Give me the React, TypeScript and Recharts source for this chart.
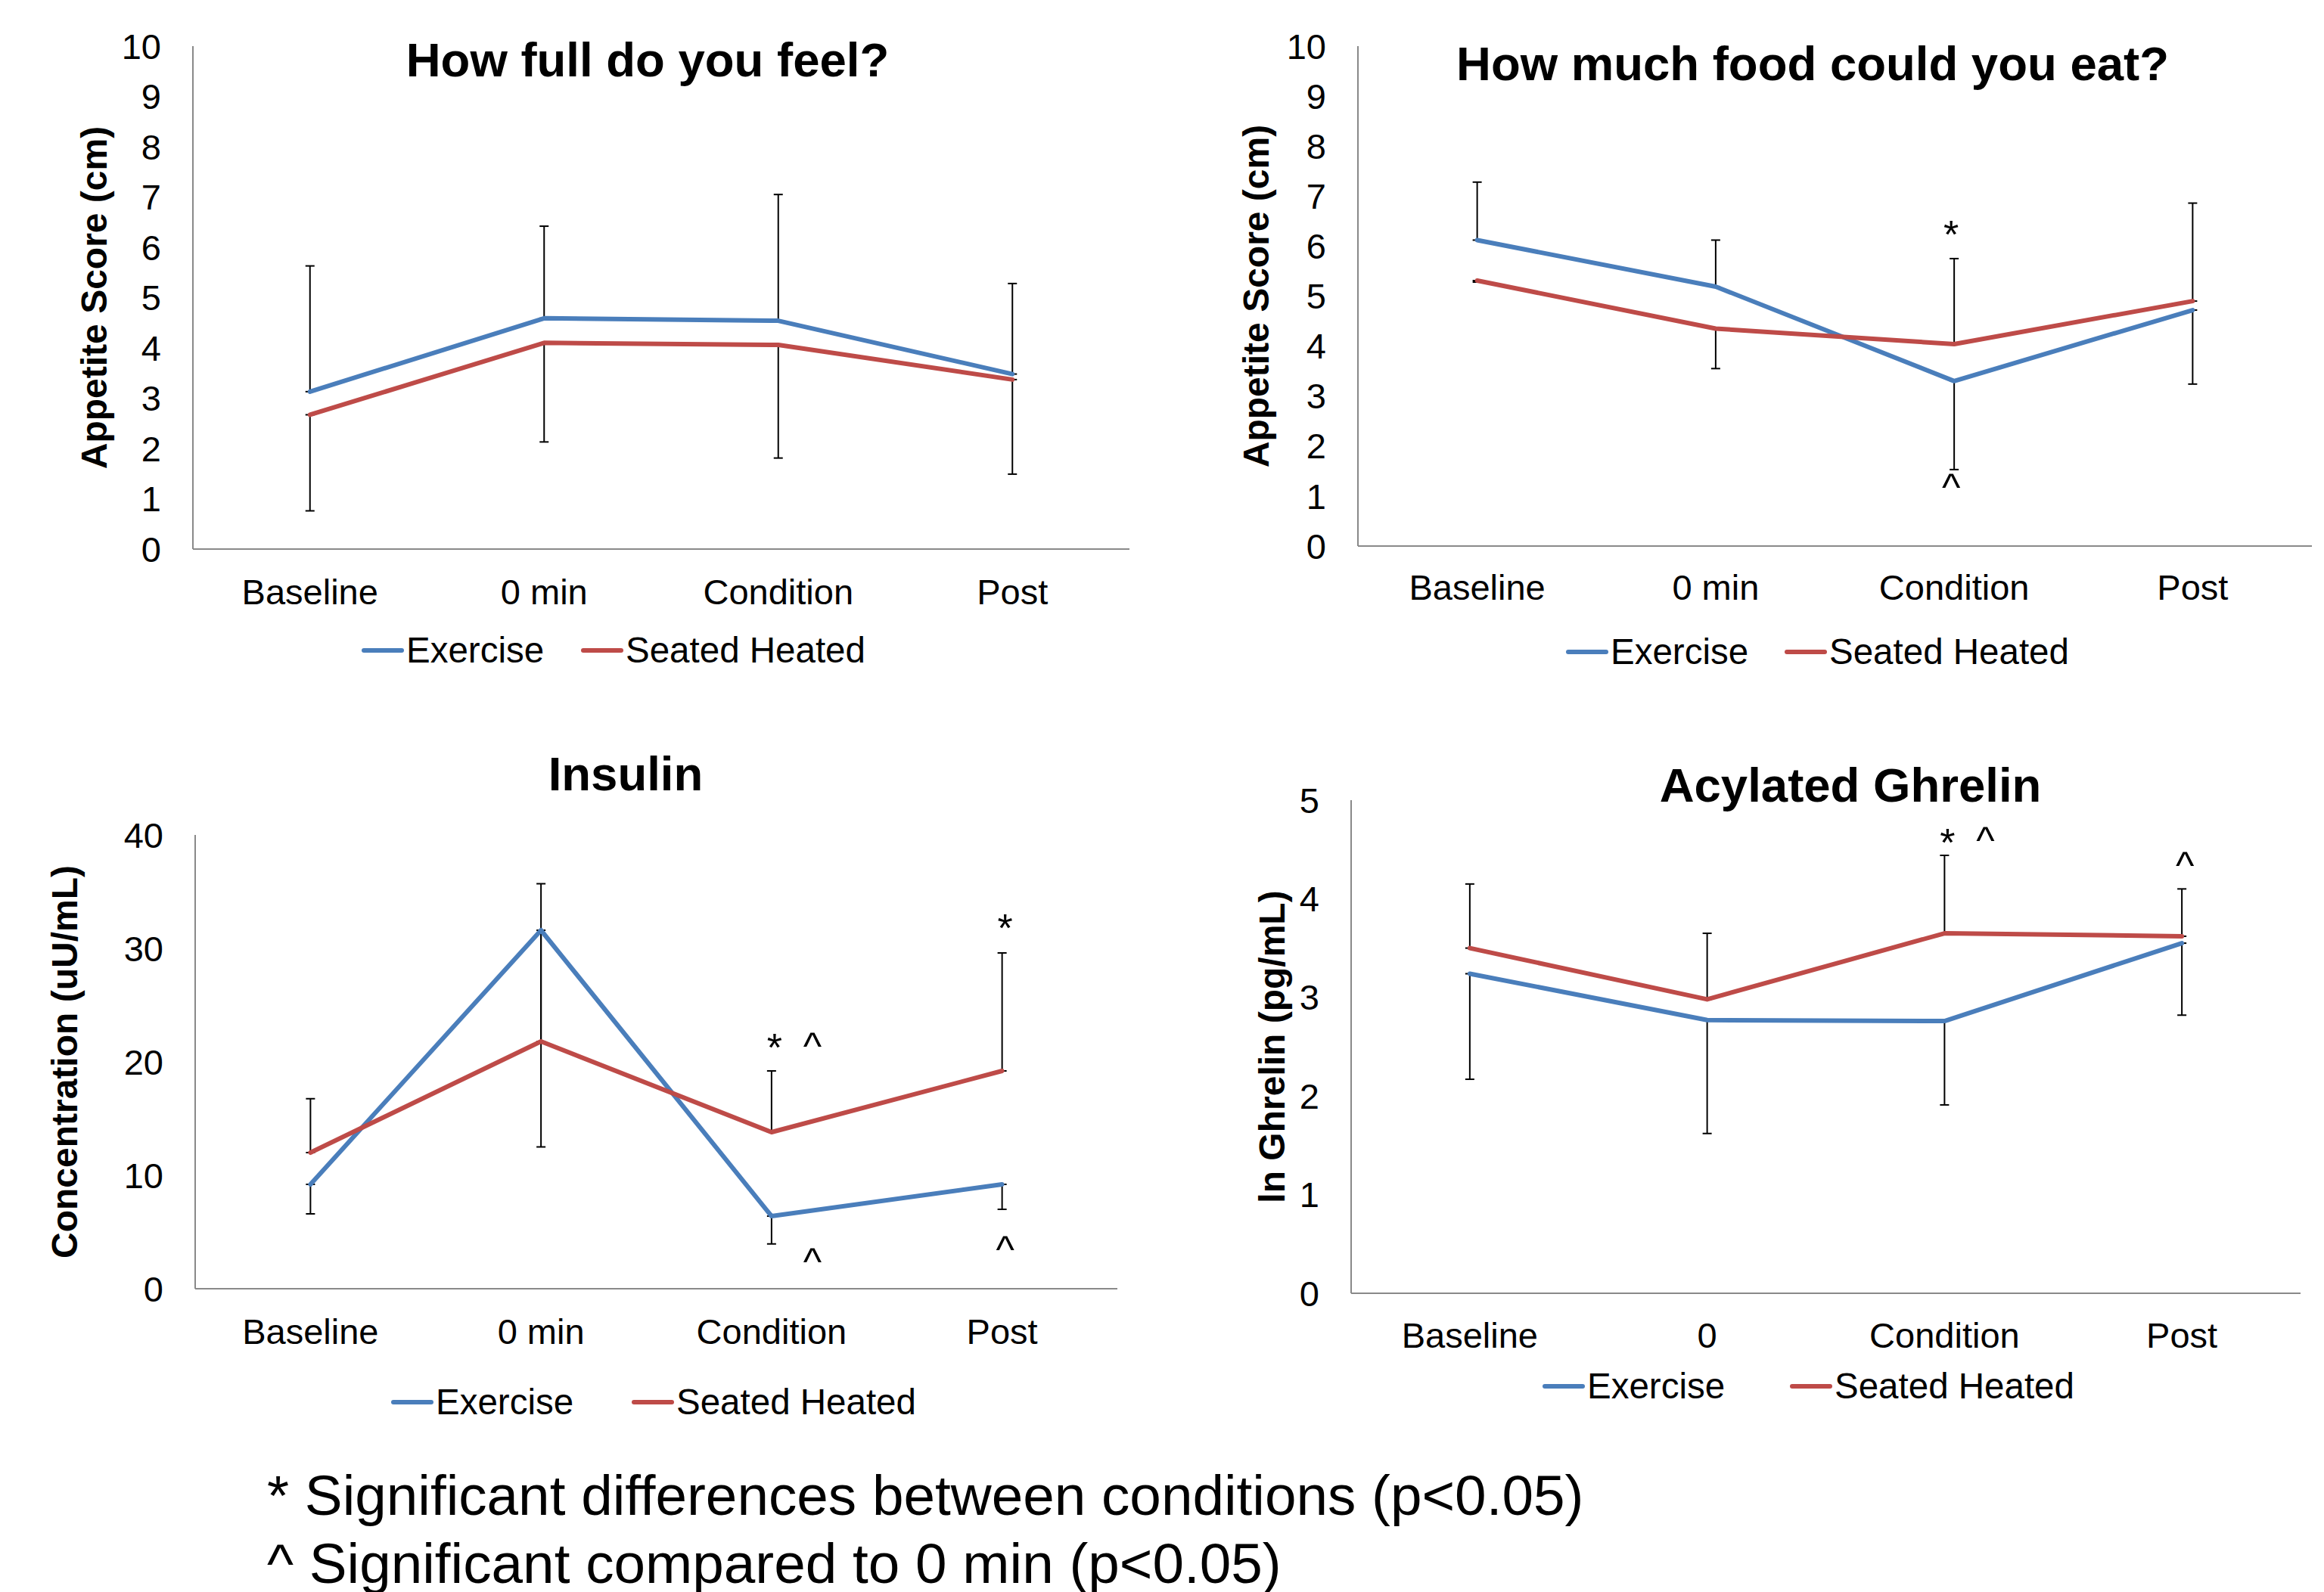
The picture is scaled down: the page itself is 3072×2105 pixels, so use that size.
import React from 'react';
import { LineChart, Line, XAxis, YAxis, ErrorBar, ReferenceDot, Legend } from 'recharts';

const FONT = '"Liberation Sans", Arial, Helvetica, sans-serif';
const BLUE = '#4a7ebb';
const RED = '#be4b48';
const AXIS = '#898989';

// ---------- data ----------
const seriesNames = ['Exercise', 'Seated Heated'];
const seriesColors = [BLUE, RED];

const appetiteCategories = ['Baseline', '0 min', 'Condition', 'Post'];
const ghrelinCategories = ['Baseline', '0', 'Condition', 'Post'];

const appetiteTicks = [0, 1, 2, 3, 4, 5, 6, 7, 8, 9, 10];
const insulinTicks = [0, 10, 20, 30, 40];
const ghrelinTicks = [0, 1, 2, 3, 4, 5];

// How full do you feel?
const fullExercise = [3.13, 4.59, 4.54, 3.48];
const fullSeated = [2.67, 4.1, 4.06, 3.37];
const fullExerciseErrEnd = [5.63, 6.42, 7.05, 5.28];
const fullSeatedErrEnd = [0.76, 2.13, 1.81, 1.49];

// How much food could you eat?
const foodExercise = [6.12, 5.19, 3.3, 4.72];
const foodSeated = [5.31, 4.35, 4.04, 4.9];
const foodExerciseErrEnd = [7.28, 6.12, 1.53, 3.24];
const foodSeatedErrEnd = [5.28, 3.55, 5.75, 6.86];

// Insulin
const insulinExercise = [9.2, 31.6, 6.4, 9.2];
const insulinSeated = [12.0, 21.8, 13.8, 19.2];
const insulinExerciseErrEnd = [6.6, 12.5, 3.95, 7.0];
const insulinSeatedErrEnd = [16.75, 35.7, 19.2, 29.6];

// Acylated Ghrelin
const ghrelinExercise = [3.24, 2.77, 2.76, 3.55];
const ghrelinSeated = [3.5, 2.98, 3.65, 3.62];
const ghrelinExerciseErrEnd = [2.17, 1.62, 1.91, 2.82];
const ghrelinSeatedErrEnd = [4.15, 3.65, 4.44, 4.1];

// significance marks
const fullMarks: { cat: string; y: number; text: string; slot: string }[] = [];
const foodMarks = [
  { cat: 'Condition', y: 6.41, text: '*', slot: 'onLeft' },
  { cat: 'Condition', y: 1.33, text: '^', slot: 'onLeft' },
];
const insulinMarks = [
  { cat: 'Condition', y: 22.07, text: '*', slot: 'on' },
  { cat: 'Condition', y: 22.07, text: '^', slot: 'right' },
  { cat: 'Condition', y: 3.07, text: '^', slot: 'right' },
  { cat: 'Post', y: 32.6, text: '*', slot: 'on' },
  { cat: 'Post', y: 4.13, text: '^', slot: 'on' },
];
const ghrelinMarks = [
  { cat: 'Condition', y: 4.66, text: '*', slot: 'on' },
  { cat: 'Condition', y: 4.67, text: '^', slot: 'right' },
  { cat: 'Post', y: 4.41, text: '^', slot: 'on' },
];

const footnotes = [
  '* Significant differences between conditions (p<0.05)',
  '^ Significant compared to 0 min (p<0.05)',
];

// ---------- helpers ----------
function buildRows(cats: string[], ex: number[], se: number[], exEnd: number[], seEnd: number[]) {
  return cats.map((c, i) => ({
    cat: c,
    ex: ex[i],
    se: se[i],
    exA: ex[i],
    seA: se[i],
    exErr: [Math.max(0, ex[i] - exEnd[i]), Math.max(0, exEnd[i] - ex[i])],
    seErr: [Math.max(0, se[i] - seEnd[i]), Math.max(0, seEnd[i] - se[i])],
  }));
}

const SLOT_DX: Record<string, number> = { on: 4, onLeft: -4, right: 54 };

const tickStyle = { fill: '#000', fontSize: 47, fontFamily: FONT };
const LINE_W = 6;

const LegendBox = ({ second }: { second: number }) => (
  <div style={{ position: 'relative', width: 900, height: 60, fontFamily: FONT, fontSize: 47.5, color: '#000' }}>
    {seriesNames.map((name, i) => (
      <div
        key={name}
        style={{
          position: 'absolute',
          left: i === 0 ? 0 : second,
          top: 0,
          height: 60,
          display: 'flex',
          alignItems: 'center',
          whiteSpace: 'nowrap',
        }}
      >
        <svg width={56} height={10} style={{ display: 'block' }}>
          <line x1={3} y1={5} x2={53} y2={5} stroke={seriesColors[i]} strokeWidth={LINE_W} strokeLinecap="round" />
        </svg>
        <span style={{ marginLeft: 3, lineHeight: '60px' }}>{name}</span>
      </div>
    ))}
  </div>
);

type PanelProps = {
  left: number;
  top: number;
  width: number;
  height: number;
  margin: { top: number; right: number; bottom: number; left: number };
  rows: any[];
  ticks: number[];
  yLabel: string;
  yLabelDx: number;
  xTickMargin: number;
  legendLeft: number;
  legendTop: number;
  legendSecond: number;
  marks: { cat: string; y: number; text: string; slot: string }[];
};

const Panel = (p: PanelProps) => {
  const plotW = p.width - p.margin.left - p.margin.right - 100;
  const pad = plotW / 8;
  const maxY = p.ticks[p.ticks.length - 1];
  return (
    <div style={{ position: 'absolute', left: p.left, top: p.top }}>
      <LineChart width={p.width} height={p.height} data={p.rows} margin={p.margin}>
        <XAxis
          dataKey="cat"
          type="category"
          interval={0}
          padding={{ left: pad, right: pad }}
          axisLine={{ stroke: AXIS, strokeWidth: 2 }}
          tickLine={false}
          tickSize={0}
          tickMargin={p.xTickMargin}
          height={100}
          tick={tickStyle}
        />
        <YAxis
          type="number"
          domain={[0, maxY]}
          ticks={p.ticks}
          interval={0}
          width={100}
          axisLine={{ stroke: AXIS, strokeWidth: 2 }}
          tickLine={false}
          tickSize={0}
          tickMargin={42}
          tick={tickStyle}
          label={{
            content: (lp: any) => {
              const vb = lp.viewBox || { x: 0, y: 0, width: 0, height: 0 };
              const cx = vb.x + vb.width + p.yLabelDx;
              const cy = vb.y + vb.height / 2;
              return (
                <text
                  x={cx}
                  y={cy}
                  transform={`rotate(-90, ${cx}, ${cy})`}
                  textAnchor="middle"
                  dominantBaseline="central"
                  fontSize={48}
                  fontWeight="bold"
                  fontFamily={FONT}
                  fill="#000"
                >
                  {p.yLabel}
                </text>
              );
            },
          }}
        />
        <Line dataKey="exA" stroke="none" dot={false} activeDot={false} legendType="none" isAnimationActive={false}>
          <ErrorBar dataKey="exErr" direction="y" width={6} stroke="#000" strokeWidth={2} />
        </Line>
        <Line dataKey="seA" stroke="none" dot={false} activeDot={false} legendType="none" isAnimationActive={false}>
          <ErrorBar dataKey="seErr" direction="y" width={6} stroke="#000" strokeWidth={2} />
        </Line>
        <Line
          dataKey="ex"
          name={seriesNames[0]}
          type="linear"
          stroke={BLUE}
          strokeWidth={LINE_W}
          strokeLinecap="round"
          strokeLinejoin="round"
          dot={false}
          activeDot={false}
          isAnimationActive={false}
        />
        <Line
          dataKey="se"
          name={seriesNames[1]}
          type="linear"
          stroke={RED}
          strokeWidth={LINE_W}
          strokeLinecap="round"
          strokeLinejoin="round"
          dot={false}
          activeDot={false}
          isAnimationActive={false}
        />
        {p.marks.map((m, i) => (
          <ReferenceDot
            key={i}
            x={m.cat}
            y={m.y}
            r={0}
            fill="none"
            stroke="none"
            ifOverflow="visible"
            label={{
              content: (lp: any) => {
                const vb = lp.viewBox || { x: 0, y: 0 };
                return (
                  <text
                    x={vb.x + SLOT_DX[m.slot]}
                    y={vb.y}
                    dy={m.text === '*' ? '0.57em' : '0.53em'}
                    textAnchor="middle"
                    fontSize={52}
                    fontFamily={FONT}
                    fill="#000"
                  >
                    {m.text}
                  </text>
                );
              },
            }}
          />
        ))}
        <Legend
          layout="horizontal"
          verticalAlign="middle"
          align="center"
          wrapperStyle={{ left: p.legendLeft, top: p.legendTop, width: 900, height: 60 }}
          content={() => <LegendBox second={p.legendSecond} />}
        />
      </LineChart>
    </div>
  );
};

const titles = [
  { text: 'How full do you feel?', x: 856, y: 101 },
  { text: 'How much food could you eat?', x: 2396, y: 106 },
  { text: 'Insulin', x: 827, y: 1045 },
  { text: 'Acylated Ghrelin', x: 2446, y: 1060 },
];

export default function App() {
  const fullRows = buildRows(appetiteCategories, fullExercise, fullSeated, fullExerciseErrEnd, fullSeatedErrEnd);
  const foodRows = buildRows(appetiteCategories, foodExercise, foodSeated, foodExerciseErrEnd, foodSeatedErrEnd);
  const insulinRows = buildRows(appetiteCategories, insulinExercise, insulinSeated, insulinExerciseErrEnd, insulinSeatedErrEnd);
  const ghrelinRows = buildRows(ghrelinCategories, ghrelinExercise, ghrelinSeated, ghrelinExerciseErrEnd, ghrelinSeatedErrEnd);

  return (
    <div style={{ position: 'absolute', left: 0, top: 0, width: 3072, height: 2105, background: '#fff', overflow: 'hidden' }}>
      <Panel
        left={0}
        top={0}
        width={1536}
        height={960}
        margin={{ top: 61, right: 43, bottom: 134, left: 155 }}
        rows={fullRows}
        ticks={appetiteTicks}
        yLabel="Appetite Score (cm)"
        yLabelDx={-131}
        xTickMargin={40}
        legendLeft={478}
        legendTop={830}
        legendSecond={290}
        marks={fullMarks}
      />
      <Panel
        left={1536}
        top={0}
        width={1536}
        height={960}
        margin={{ top: 61, right: 16, bottom: 138, left: 159 }}
        rows={foodRows}
        ticks={appetiteTicks}
        yLabel="Appetite Score (cm)"
        yLabelDx={-135}
        xTickMargin={38}
        legendLeft={534}
        legendTop={832}
        legendSecond={289}
        marks={foodMarks}
      />
      <Panel
        left={0}
        top={960}
        width={1536}
        height={945}
        margin={{ top: 144, right: 59, bottom: 101, left: 158 }}
        rows={insulinRows}
        ticks={insulinTicks}
        yLabel="Concentration (uU/mL)"
        yLabelDx={-173}
        xTickMargin={40}
        legendLeft={517}
        legendTop={864}
        legendSecond={318}
        marks={insulinMarks}
      />
      <Panel
        left={1536}
        top={960}
        width={1536}
        height={945}
        margin={{ top: 98, right: 31, bottom: 95, left: 150 }}
        rows={ghrelinRows}
        ticks={ghrelinTicks}
        yLabel="ln Ghrelin (pg/mL)"
        yLabelDx={-105}
        xTickMargin={39}
        legendLeft={503}
        legendTop={843}
        legendSecond={327}
        marks={ghrelinMarks}
      />
      <svg width={3072} height={2105} style={{ position: 'absolute', left: 0, top: 0, pointerEvents: 'none' }}>
        {titles.map((t) => (
          <text key={t.text} x={t.x} y={t.y} textAnchor="middle" fontSize={63.5} fontWeight="bold" fontFamily={FONT} fill="#000">
            {t.text}
          </text>
        ))}
        {footnotes.map((f, i) => (
          <text key={f} x={353} y={2003 + i * 90} fontSize={74.7} fontFamily={FONT} fill="#000">
            {f}
          </text>
        ))}
      </svg>
    </div>
  );
}
